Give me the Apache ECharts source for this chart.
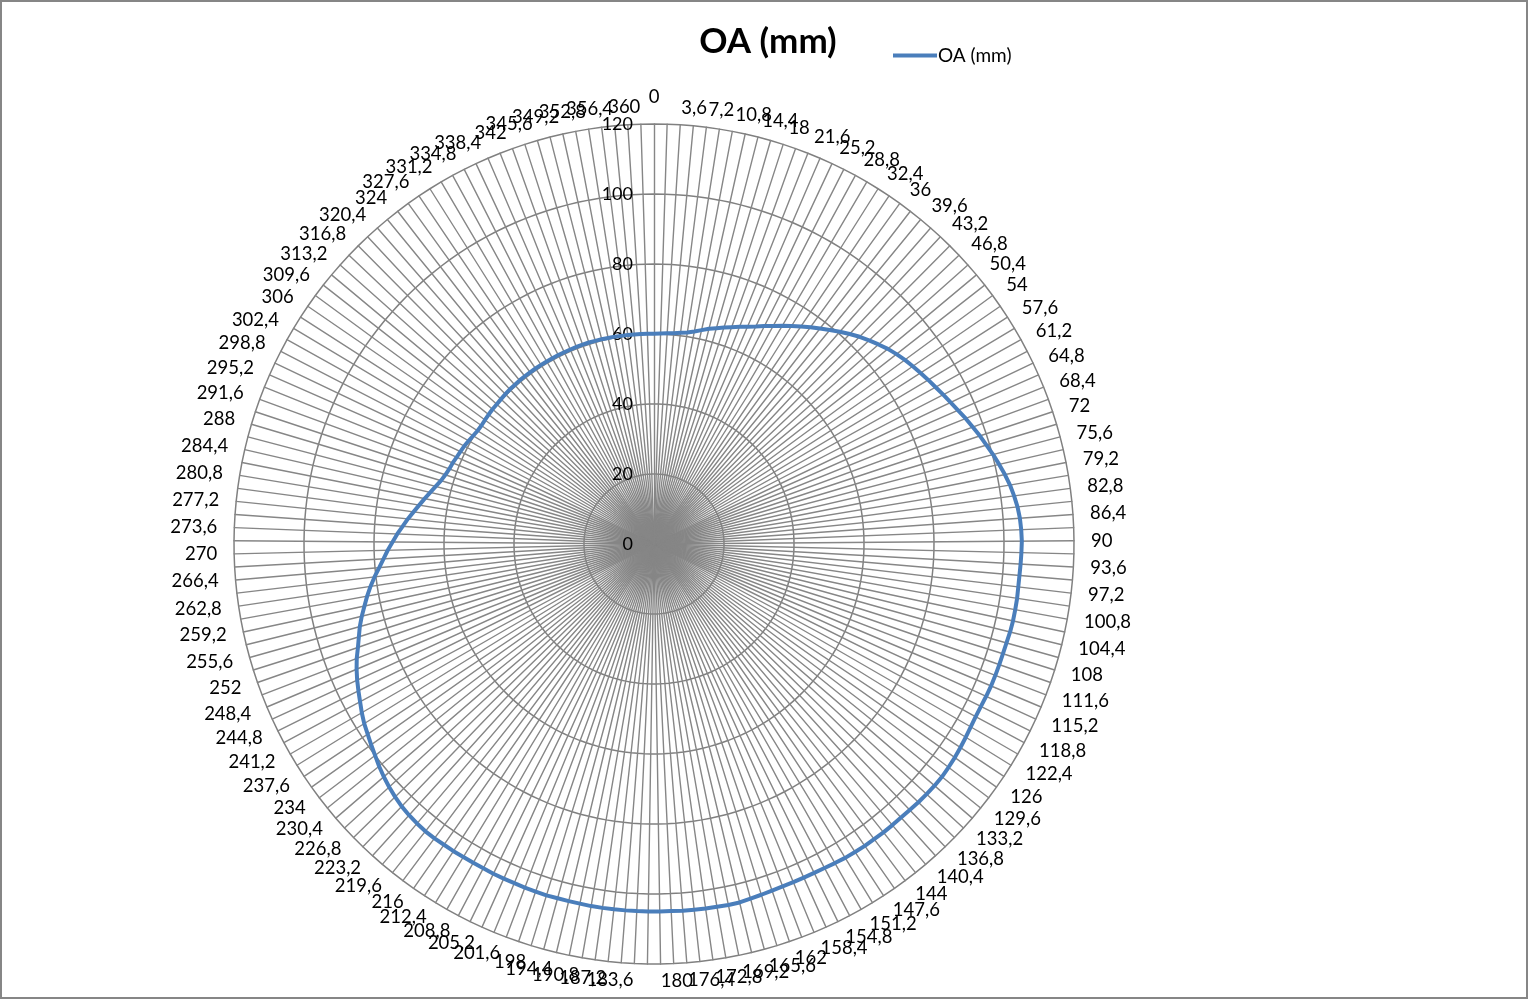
<!DOCTYPE html>
<html>
<head>
<meta charset="utf-8">
<script src="https://cdn.jsdelivr.net/npm/echarts@6/dist/echarts.min.js"></script>
<style>
  html, body { margin: 0; padding: 0; background: #fff; }
  #chart { width: 1524px; height: 995px; border: 2px solid #868686; }
</style>
</head>
<body>
<div id="chart"></div>
<script>
// angle labels shown round the chart (every other spoke, Excel decimal commas)
var categories = [
    '0', '3,6', '7,2', '10,8', '14,4', '18', '21,6', '25,2', '28,8', '32,4',
    '36', '39,6', '43,2', '46,8', '50,4', '54', '57,6', '61,2', '64,8', '68,4',
    '72', '75,6', '79,2', '82,8', '86,4', '90', '93,6', '97,2', '100,8', '104,4',
    '108', '111,6', '115,2', '118,8', '122,4', '126', '129,6', '133,2', '136,8', '140,4',
    '144', '147,6', '151,2', '154,8', '158,4', '162', '165,6', '169,2', '172,8', '176,4',
    '180', '183,6', '187,2', '190,8', '194,4', '198', '201,6', '205,2', '208,8', '212,4',
    '216', '219,6', '223,2', '226,8', '230,4', '234', '237,6', '241,2', '244,8', '248,4',
    '252', '255,6', '259,2', '262,8', '266,4', '270', '273,6', '277,2', '280,8', '284,4',
    '288', '291,6', '295,2', '298,8', '302,4', '306', '309,6', '313,2', '316,8', '320,4',
    '324', '327,6', '331,2', '334,8', '338,4', '342', '345,6', '349,2', '352,8', '356,4',
    '360'
];

// OA (mm) at every spoke (201 spokes)
var oaValues = [
    60.1, 60.2, 60.3, 60.5, 60.8, 61.2, 61.8, 62.6, 63.5, 64.2,
    65.0, 65.8, 66.7, 67.6, 68.6, 69.8, 71.0, 72.3, 73.6, 75.0,
    76.4, 77.7, 79.1, 80.6, 82.0, 83.4, 84.6, 85.8, 87.0, 88.0,
    88.9, 89.7, 90.5, 91.3, 92.1, 93.0, 93.9, 94.9, 96.0, 97.0,
    98.1, 99.1, 100.2, 101.2, 102.2, 103.1, 103.8, 104.4, 104.8, 105.0,
    105.1, 105.0, 104.9, 104.8, 104.8, 104.9, 104.9, 104.9, 104.8, 104.6,
    104.5, 104.5, 104.5, 104.5, 104.4, 104.3, 104.3, 104.5, 104.8, 105.1,
    105.4, 105.6, 105.8, 105.8, 105.7, 105.6, 105.4, 105.3, 105.3, 105.3,
    105.2, 105.2, 105.1, 105.0, 104.8, 104.6, 104.5, 104.5, 104.5, 104.5,
    104.6, 104.8, 105.0, 105.3, 105.3, 105.2, 105.2, 105.1, 105.1, 105.0,
    105.0, 105.0, 105.0, 105.0, 105.0, 105.0, 105.0, 104.9, 104.9, 104.9,
    105.0, 104.9, 104.9, 104.8, 104.8, 104.8, 104.7, 104.7, 104.7, 104.8,
    104.8, 104.9, 104.9, 104.7, 104.4, 104.0, 103.4, 102.7, 101.9, 101.0,
    100.0, 99.1, 98.2, 97.4, 96.4, 95.3, 94.3, 93.3, 92.2, 91.0,
    89.6, 88.4, 87.3, 86.0, 84.6, 83.3, 81.9, 80.4, 78.8, 77.4,
    76.1, 74.7, 73.4, 72.0, 70.7, 69.3, 68.0, 66.8, 65.6, 64.5,
    63.5, 62.8, 62.3, 62.0, 61.6, 61.3, 61.0, 60.6, 60.2, 59.9,
    59.8, 59.9, 60.0, 60.1, 60.1, 60.2, 60.3, 60.4, 60.4, 60.5,
    60.5, 60.5, 60.5, 60.5, 60.5, 60.5, 60.5, 60.5, 60.5, 60.5,
    60.5, 60.5, 60.4, 60.4, 60.3, 60.3, 60.2, 60.2, 60.1, 60.1,
    60.1
];

var seriesName = 'OA (mm)';
var radialMax = 120;

var myChart = echarts.init(document.getElementById('chart'));

// echarts radar runs counter-clockwise, Excel clockwise: keep the first, reverse the rest
var order = [0];
for (var i = oaValues.length - 1; i > 0; i--) {
    order.push(i);
}

var indicators = order.map(function(idx) {
    var ind = {
        name: idx % 2 === 0 ? categories[idx / 2] : '',
        max: radialMax,
        min: 0
    };
    if (idx === 0) {
        // only the top spoke carries the value labels
        ind.axisLabel = {
            show: true,
            color: '#000',
            fontSize: 18,
            fontFamily: 'Lato',
            margin: 21
        };
    }
    return ind;
});
var values = order.map(function(idx) { return oaValues[idx]; });

var option = {
    animation: false,
    title: {
        text: 'OA (mm)',
        left: 761,
        top: 17,
        textAlign: 'center',
        textStyle: {
            fontFamily: 'Lato',
            fontSize: 35,
            fontWeight: 'bold',
            color: '#000'
        }
    },
    legend: {
        left: 886,
        top: 39,
        itemWidth: 44,
        itemHeight: 4,
        itemGap: 4,
        icon: 'rect',
        textStyle: { fontFamily: 'Lato', fontSize: 19, color: '#000', padding: [0, 0, 0, -4] },
        data: [seriesName]
    },
    radar: {
        center: [652, 542],
        radius: 420,
        startAngle: 90,
        splitNumber: 6,
        shape: 'polygon',
        indicator: indicators,
        nameGap: 17,
        axisName: {
            color: '#000',
            fontSize: 18.5,
            fontFamily: 'Lato'
        },
        axisLine: { lineStyle: { color: '#868686', width: 1.4 } },
        splitLine: { lineStyle: { color: '#808080', width: 1.5 } },
        splitArea: { show: false },
        axisTick: { show: false },
        axisLabel: { show: false }
    },
    series: [{
        name: seriesName,
        type: 'radar',
        symbol: 'none',
        lineStyle: { color: '#4a7ebb', width: 4 },
        itemStyle: { color: '#4a7ebb' },
        data: [{ value: values, name: seriesName }]
    }]
};

myChart.setOption(option);

window.onresize = function() {
    myChart.resize();
};
</script>
</body>
</html>
